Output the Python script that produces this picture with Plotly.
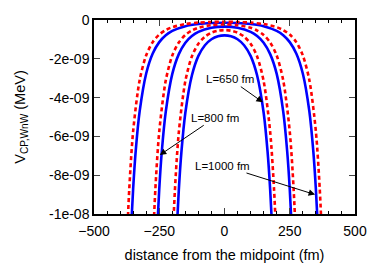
import plotly.graph_objects as go

# potential in units of 1e-9 MeV, right half (x >= 0); curves are symmetric about x = 0
x_b1000 = [0, 50, 100, 150, 200, 225, 250, 275, 300, 325, 340, 350, 360, 370]
v_b1000 = [-0.141, -0.155, -0.206, -0.318, -0.561, -0.785, -1.14, -1.73, -2.76, -4.70, -6.72, -8.70, -11.45, -15.4]
x_r1000 = [0, 50, 100, 150, 200, 225, 250, 275, 300, 325, 350, 365, 375, 385]
v_r1000 = [-0.093, -0.103, -0.135, -0.21, -0.37, -0.52, -0.75, -1.14, -1.82, -3.09, -5.73, -8.73, -11.9, -16.6]

x_b800 = [0, 50, 100, 125, 150, 175, 200, 225, 240, 250, 260, 270]
v_b800 = [-0.344, -0.40, -0.61, -0.827, -1.17, -1.76, -2.78, -4.72, -6.74, -8.72, -11.5, -15.4]
x_r800 = [0, 50, 100, 125, 150, 175, 200, 225, 250, 265, 275, 285]
v_r800 = [-0.227, -0.264, -0.40, -0.545, -0.77, -1.16, -1.83, -3.11, -5.75, -8.75, -11.9, -16.6]

x_b650 = [0, 25, 50, 75, 100, 125, 150, 165, 175, 185, 195]
v_b650 = [-0.79, -0.836, -0.99, -1.30, -1.85, -2.86, -4.78, -6.79, -8.76, -11.5, -15.5]
x_r650 = [0, 25, 50, 75, 100, 125, 150, 175, 190, 200, 210]
v_r650 = [-0.52, -0.551, -0.65, -0.86, -1.22, -1.88, -3.15, -5.78, -8.77, -11.9, -16.7]

y_tickvals = [0, -2, -4, -6, -8, -10]
y_ticktext = ["0", "-2e-09", "-4e-09", "-6e-09", "-8e-09", "-1e-08"]
x_tickvals = [-500, -250, 0, 250, 500]

labels = ["L=650 fm", "L=800 fm", "L=1000 fm"]
label_pos = [(22, -3.05), (-37, -5.04), (-7, -7.5)]
arrow_heads = [(147, -4.24), (-248, -6.96), (347, -9.0)]


def full(xs, vs):
    xx = [-x for x in reversed(xs)] + xs[1:]
    yy = list(reversed(vs)) + vs[1:]
    return xx, yy


fig = go.Figure()
blue = dict(color="#0000ff", width=2.6)
red = dict(color="#ff0000", width=2.6, dash="4px,3px")
for xs, vs in [(x_b1000, v_b1000), (x_b800, v_b800), (x_b650, v_b650)]:
    xx, yy = full(xs, vs)
    fig.add_trace(go.Scatter(x=xx, y=yy, mode="lines", line=dict(**blue, shape="spline", smoothing=0.8)))
for xs, vs in [(x_r1000, v_r1000), (x_r800, v_r800), (x_r650, v_r650)]:
    xx, yy = full(xs, vs)
    fig.add_trace(go.Scatter(x=xx, y=yy, mode="lines", line=dict(**red, shape="spline", smoothing=0.8)))

for t, (tx, ty), (hx, hy) in zip(labels, label_pos, arrow_heads):
    fig.add_annotation(x=hx, y=hy, ax=tx, ay=ty, axref="x", ayref="y", xref="x", yref="y",
                       text=t, showarrow=True, arrowhead=2, arrowsize=1.3, arrowwidth=1,
                       arrowcolor="black", font=dict(size=11.5, color="black"))

font = "Liberation Sans, Arial, sans-serif"
fig.update_layout(
    width=390, height=273,
    margin=dict(l=94, r=35, t=17, b=47),
    paper_bgcolor="white", plot_bgcolor="white",
    showlegend=False,
    font=dict(family=font, size=14, color="black"),
    xaxis=dict(range=[-500, 500], tickvals=x_tickvals, ticks="inside", ticklen=6,
               showline=True, linecolor="black", linewidth=1.5, mirror="ticks",
               showgrid=False, zeroline=False, ticklabelstandoff=3,
               minor=dict(dtick=50, ticks="inside", ticklen=3, tickcolor="black"),
               title=dict(text="distance from the midpoint (fm)", font=dict(size=14.5), standoff=12),
               tickfont=dict(size=14)),
    yaxis=dict(range=[-10, 0], tickvals=y_tickvals, ticktext=y_ticktext, ticks="inside", ticklen=6,
               showline=True, linecolor="black", linewidth=1.5, mirror="ticks",
               showgrid=False, zeroline=False,
               title=dict(text="V<sub>CP,WnW</sub> (MeV)", font=dict(size=14.5), standoff=20),
               tickfont=dict(size=14)),
)
fig.write_html("out.html")
